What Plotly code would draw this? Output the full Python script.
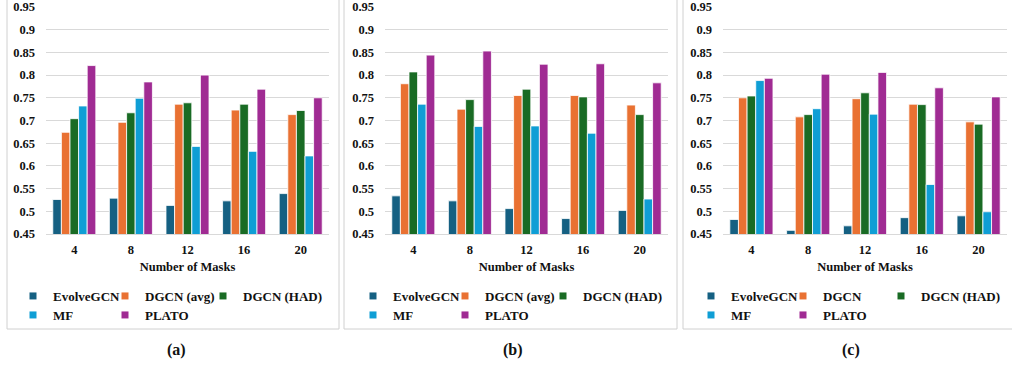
import plotly.graph_objects as go

masks = ["4", "8", "12", "16", "20"]
series_names_ab = ["EvolveGCN", "DGCN (avg)", "DGCN (HAD)", "MF", "PLATO"]
series_names_c = ["EvolveGCN", "DGCN", "DGCN (HAD)", "MF", "PLATO"]
colors = ["#156082", "#E97132", "#196B24", "#0F9ED5", "#A02B93"]

# panel (a)
a_evolve = [0.526, 0.529, 0.513, 0.523, 0.539]
a_dgcn_avg = [0.674, 0.696, 0.736, 0.723, 0.713]
a_dgcn_had = [0.704, 0.717, 0.739, 0.736, 0.722]
a_mf = [0.732, 0.749, 0.643, 0.632, 0.622]
a_plato = [0.821, 0.785, 0.800, 0.769, 0.750]

# panel (b)
b_evolve = [0.534, 0.523, 0.506, 0.484, 0.502]
b_dgcn_avg = [0.781, 0.725, 0.755, 0.755, 0.734]
b_dgcn_had = [0.807, 0.746, 0.769, 0.752, 0.713]
b_mf = [0.736, 0.687, 0.688, 0.672, 0.527]
b_plato = [0.844, 0.853, 0.824, 0.825, 0.783]

# panel (c)
c_evolve = [0.482, 0.458, 0.468, 0.486, 0.490]
c_dgcn = [0.750, 0.708, 0.748, 0.736, 0.697]
c_dgcn_had = [0.754, 0.713, 0.761, 0.735, 0.692]
c_mf = [0.788, 0.726, 0.714, 0.559, 0.499]
c_plato = [0.793, 0.802, 0.806, 0.772, 0.752]

y_tickvals = [0.45, 0.5, 0.55, 0.6, 0.65, 0.7, 0.75, 0.8, 0.85, 0.9, 0.95]
y_ticktext = ["0.45", "0.5", "0.55", "0.6", "0.65", "0.7", "0.75", "0.8", "0.85", "0.9", "0.95"]
panel_labels = ["(a)", "(b)", "(c)"]
x_title = "Number of Masks"

W, H = 1012, 368
FONT = "Liberation Serif"
TXT = "#111111"

panels = [
    (series_names_ab, [a_evolve, a_dgcn_avg, a_dgcn_had, a_mf, a_plato]),
    (series_names_ab, [b_evolve, b_dgcn_avg, b_dgcn_had, b_mf, b_plato]),
    (series_names_c, [c_evolve, c_dgcn, c_dgcn_had, c_mf, c_plato]),
]

plot_x = [(46, 329), (385, 668), (723, 1007)]
legend_text_x = [53, 393, 731]
col_offsets = [0, 92, 190]
row_top = [281, 300]
box_x = [(7, 339), (344, 677), (683, 1020)]
label_x = [176, 513, 851]

fig = go.Figure()
layout = dict(
    width=W, height=H, margin=dict(l=0, r=0, t=0, b=0, autoexpand=False),
    paper_bgcolor="white", plot_bgcolor="white",
    barmode="group", bargap=0.24, bargroupgap=0.0,
    font=dict(family=FONT, color=TXT, size=13),
    shapes=[], annotations=[],
)

ydom = [1 - 234 / H, 1 - 7 / H]
leg_count = 0
for p, (names, vals) in enumerate(panels):
    sfx = "" if p == 0 else str(p + 1)
    xa, ya = "x" + sfx, "y" + sfx
    for i, (nm, v) in enumerate(zip(names, vals)):
        fig.add_trace(go.Bar(
            x=masks, y=v, name=nm, xaxis=xa, yaxis=ya,
            marker=dict(color=colors[i], line=dict(color="white", width=0.8)),
            showlegend=False,
        ))
    # one small legend per entry, laid out as 3 columns x 2 rows
    for i, nm in enumerate(names):
        leg_count += 1
        key = "legend" if leg_count == 1 else "legend" + str(leg_count)
        col, row = i % 3, i // 3
        layout[key] = dict(
            orientation="v", x=(legend_text_x[p] + col_offsets[col] - 40) / W, xanchor="left",
            y=1 - row_top[row] / H, yanchor="top",
            font=dict(family=FONT, size=13, color=TXT),
            bgcolor="rgba(0,0,0,0)", borderwidth=0,
            itemclick=False, itemdoubleclick=False,
        )
        fig.add_trace(go.Scatter(
            x=[None], y=[None], mode="markers", name="<b>" + nm + "</b>", xaxis=xa, yaxis=ya,
            marker=dict(symbol="square", size=7, color=colors[i]),
            legend=key, showlegend=True, hoverinfo="skip",
        ))
    x0, x1 = plot_x[p]
    layout["xaxis" + sfx] = dict(
        domain=[x0 / W, x1 / W], anchor=ya, type="category", automargin=False,
        tickvals=masks, ticktext=["<b>" + m + "</b>" for m in masks],
        showgrid=False, showline=True, linecolor="#d9d9d9", linewidth=1,
        tickfont=dict(family=FONT, size=12.5, color=TXT),
        ticklabelstandoff=4,
        title=dict(text="<b>" + x_title + "</b>", font=dict(family=FONT, size=12.5, color=TXT), standoff=6),
        fixedrange=True,
    )
    layout["yaxis" + sfx] = dict(
        domain=ydom, anchor=xa, range=[0.45, 0.95], automargin=False,
        tickvals=y_tickvals, ticktext=["<b>" + t + "</b>" for t in y_ticktext],
        showgrid=True, gridcolor="#d9d9d9", gridwidth=1, zeroline=False,
        tickfont=dict(family=FONT, size=12.5, color=TXT),
        ticklabelstandoff=10,
        fixedrange=True,
    )
    bx0, bx1 = box_x[p]
    layout["shapes"].append(dict(
        type="rect", xref="paper", yref="paper",
        x0=bx0 / W, x1=bx1 / W, y0=1 - 329 / H, y1=1.02,
        line=dict(color="#d0d0d0", width=1), fillcolor="rgba(0,0,0,0)", layer="below",
    ))
    layout["annotations"].append(dict(
        text="<b>" + panel_labels[p] + "</b>", xref="paper", yref="paper",
        x=label_x[p] / W, y=1 - 350 / H, xanchor="center", yanchor="middle",
        showarrow=False, font=dict(family=FONT, size=16, color=TXT),
    ))

fig.update_layout(**layout)
fig.write_html(
    "out.html",
    config={"displayModeBar": False},
    post_script="document.body.style.margin='0';document.body.style.padding='0';",
)
